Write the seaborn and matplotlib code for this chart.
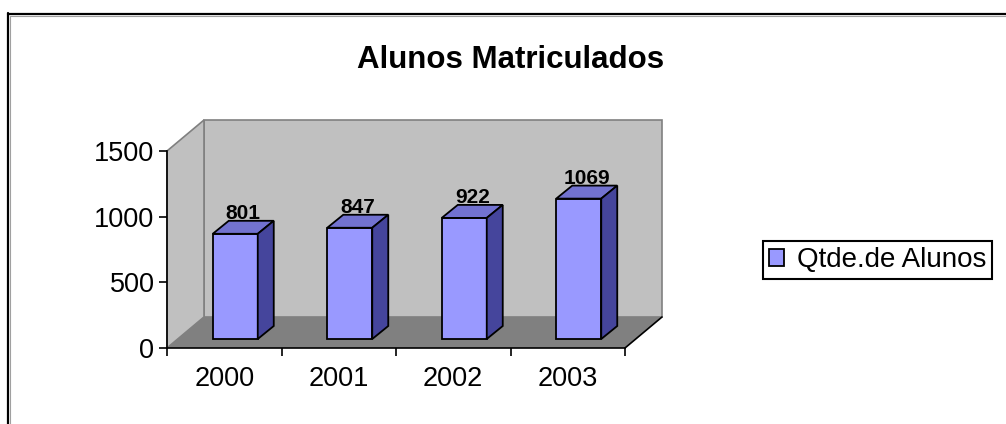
import matplotlib
matplotlib.use('Agg')
import matplotlib.pyplot as plt
from matplotlib.patches import Polygon
from matplotlib.lines import Line2D
from matplotlib.transforms import Affine2D
import seaborn as sns

# data
anos = ['2000', '2001', '2002', '2003']
alunos = [801, 847, 922, 1069]
yticks = [0, 500, 1000, 1500]
titulo = 'Alunos Matriculados'
serie = 'Qtde.de Alunos'

sns.set_theme(style='white')
plt.rcParams['font.family'] = ['Liberation Sans', 'DejaVu Sans']
plt.rcParams['text.color'] = 'black'
plt.rcParams['xtick.color'] = 'black'
plt.rcParams['ytick.color'] = 'black'
plt.rcParams['xtick.labelcolor'] = 'black'
plt.rcParams['ytick.labelcolor'] = 'black'

W, H = 1006, 424
fig = plt.figure(figsize=(W / 100, H / 100), dpi=100)
ax = fig.add_axes([167 / W, 76 / H, 458 / W, 197 / H])
ax.patch.set_visible(False)

# pixel -> data unit sizes for the fake 3d depth
px_x = 4 / 458
px_y = 1500 / 197
fx, fy = 37 * px_x, 31 * px_y   # floor depth
ox, oy = 11 * px_x, 9 * px_y    # bars pushed back from the front edge
bx, by = 16 * px_x, 13 * px_y   # bar depth

#front faces of the bars
sns.barplot(x=anos, y=alunos, color='#9999ff', saturation=1, width=0.393,
            edgecolor='black', linewidth=1.3, ax=ax, label=serie, zorder=3)
bars = list(ax.patches)
handles, labels = ax.get_legend_handles_labels()
if ax.get_legend() is not None:
    ax.get_legend().remove()

x0, x1 = -0.5, 3.5
ax.set_xlim(x0, x1)
ax.set_ylim(0, 1500)

#walls and floor
wall = '#c0c0c0'
ax.add_patch(Polygon([(x0 + fx, fy), (x1 + fx, fy), (x1 + fx, 1500 + fy), (x0 + fx, 1500 + fy)],
                     fc=wall, ec='#808080', lw=1.2, clip_on=False, zorder=0))
ax.add_patch(Polygon([(x0, 0), (x0, 1500), (x0 + fx, 1500 + fy), (x0 + fx, fy)],
                     fc=wall, ec='#808080', lw=1.2, clip_on=False, zorder=0.2))
ax.add_patch(Polygon([(x0, 0), (x1, 0), (x1 + fx, fy), (x0 + fx, fy)],
                     fc='#808080', ec='none', clip_on=False, zorder=0.5))
ax.plot([x1, x1 + fx], [0, fy], color='black', lw=1.2, clip_on=False, zorder=2.6)

shift = Affine2D().translate(ox, oy) + ax.transData
for p, v in zip(bars, alunos):
    p.set_transform(shift)
    x = p.get_x() + ox
    w = p.get_width()
    h = p.get_height()
    top = [(x, oy + h), (x + w, oy + h), (x + w + bx, oy + h + by), (x + bx, oy + h + by)]
    side = [(x + w, oy), (x + w + bx, oy + by), (x + w + bx, oy + h + by), (x + w, oy + h)]
    ax.add_patch(Polygon(top, fc='#7272d0', ec='black', lw=1.3, clip_on=False, zorder=3))
    ax.add_patch(Polygon(side, fc='#45459c', ec='black', lw=1.3, clip_on=False, zorder=3))
    ax.text(x + w / 2 + bx / 2, oy + h + by + 2 * px_y, str(v), ha='center', va='baseline',
            fontsize=15, fontweight='bold', color='black', zorder=4)

#axes and ticks
ax.set_xlabel('')
ax.set_ylabel('')
ax.set_yticks(yticks)
ax.set_xticks([-0.5, 0.5, 1.5, 2.5, 3.5], minor=True)
for s in ['top', 'right']:
    ax.spines[s].set_visible(False)
for s in ['left', 'bottom']:
    ax.spines[s].set_color('black')
    ax.spines[s].set_linewidth(1.2)
ax.tick_params(axis='x', which='major', bottom=True, length=0, pad=13, labelsize=19.5)
ax.tick_params(axis='x', which='minor', bottom=True, length=6, width=1.2, color='black', direction='out')
ax.tick_params(axis='y', left=True, length=6, width=1.2, color='black', direction='out', pad=3, labelsize=19.5)

fig.text(511 / W, 1 - 68 / H, titulo, ha='center', va='baseline', fontsize=22.5,
         fontweight='bold', color='black')

leg = fig.legend(handles, labels, loc='center left', bbox_to_anchor=(763 / W, 1 - 260 / H),
                 frameon=True, fancybox=False, edgecolor='black', framealpha=1, fontsize=20,
                 handlelength=0.55, handleheight=0.55, handletextpad=0.45, borderpad=0.22,
                 borderaxespad=0)
leg.get_frame().set_linewidth(1.5)

# chart border (only top and left visible)
fig.add_artist(Line2D([8 / W, 8 / W], [0, 1 - 13 / H], color='black', lw=1.6))
fig.add_artist(Line2D([8 / W, 1], [1 - 14 / H, 1 - 14 / H], color='black', lw=1.6))
fig.add_artist(Line2D([9.7 / W, 9.7 / W], [0, 1 - 15.5 / H], color='#a0a0a0', lw=0.8))
fig.add_artist(Line2D([9.7 / W, 1], [1 - 15.7 / H, 1 - 15.7 / H], color='#a0a0a0', lw=0.8))

fig.savefig('out.png', dpi=100)
